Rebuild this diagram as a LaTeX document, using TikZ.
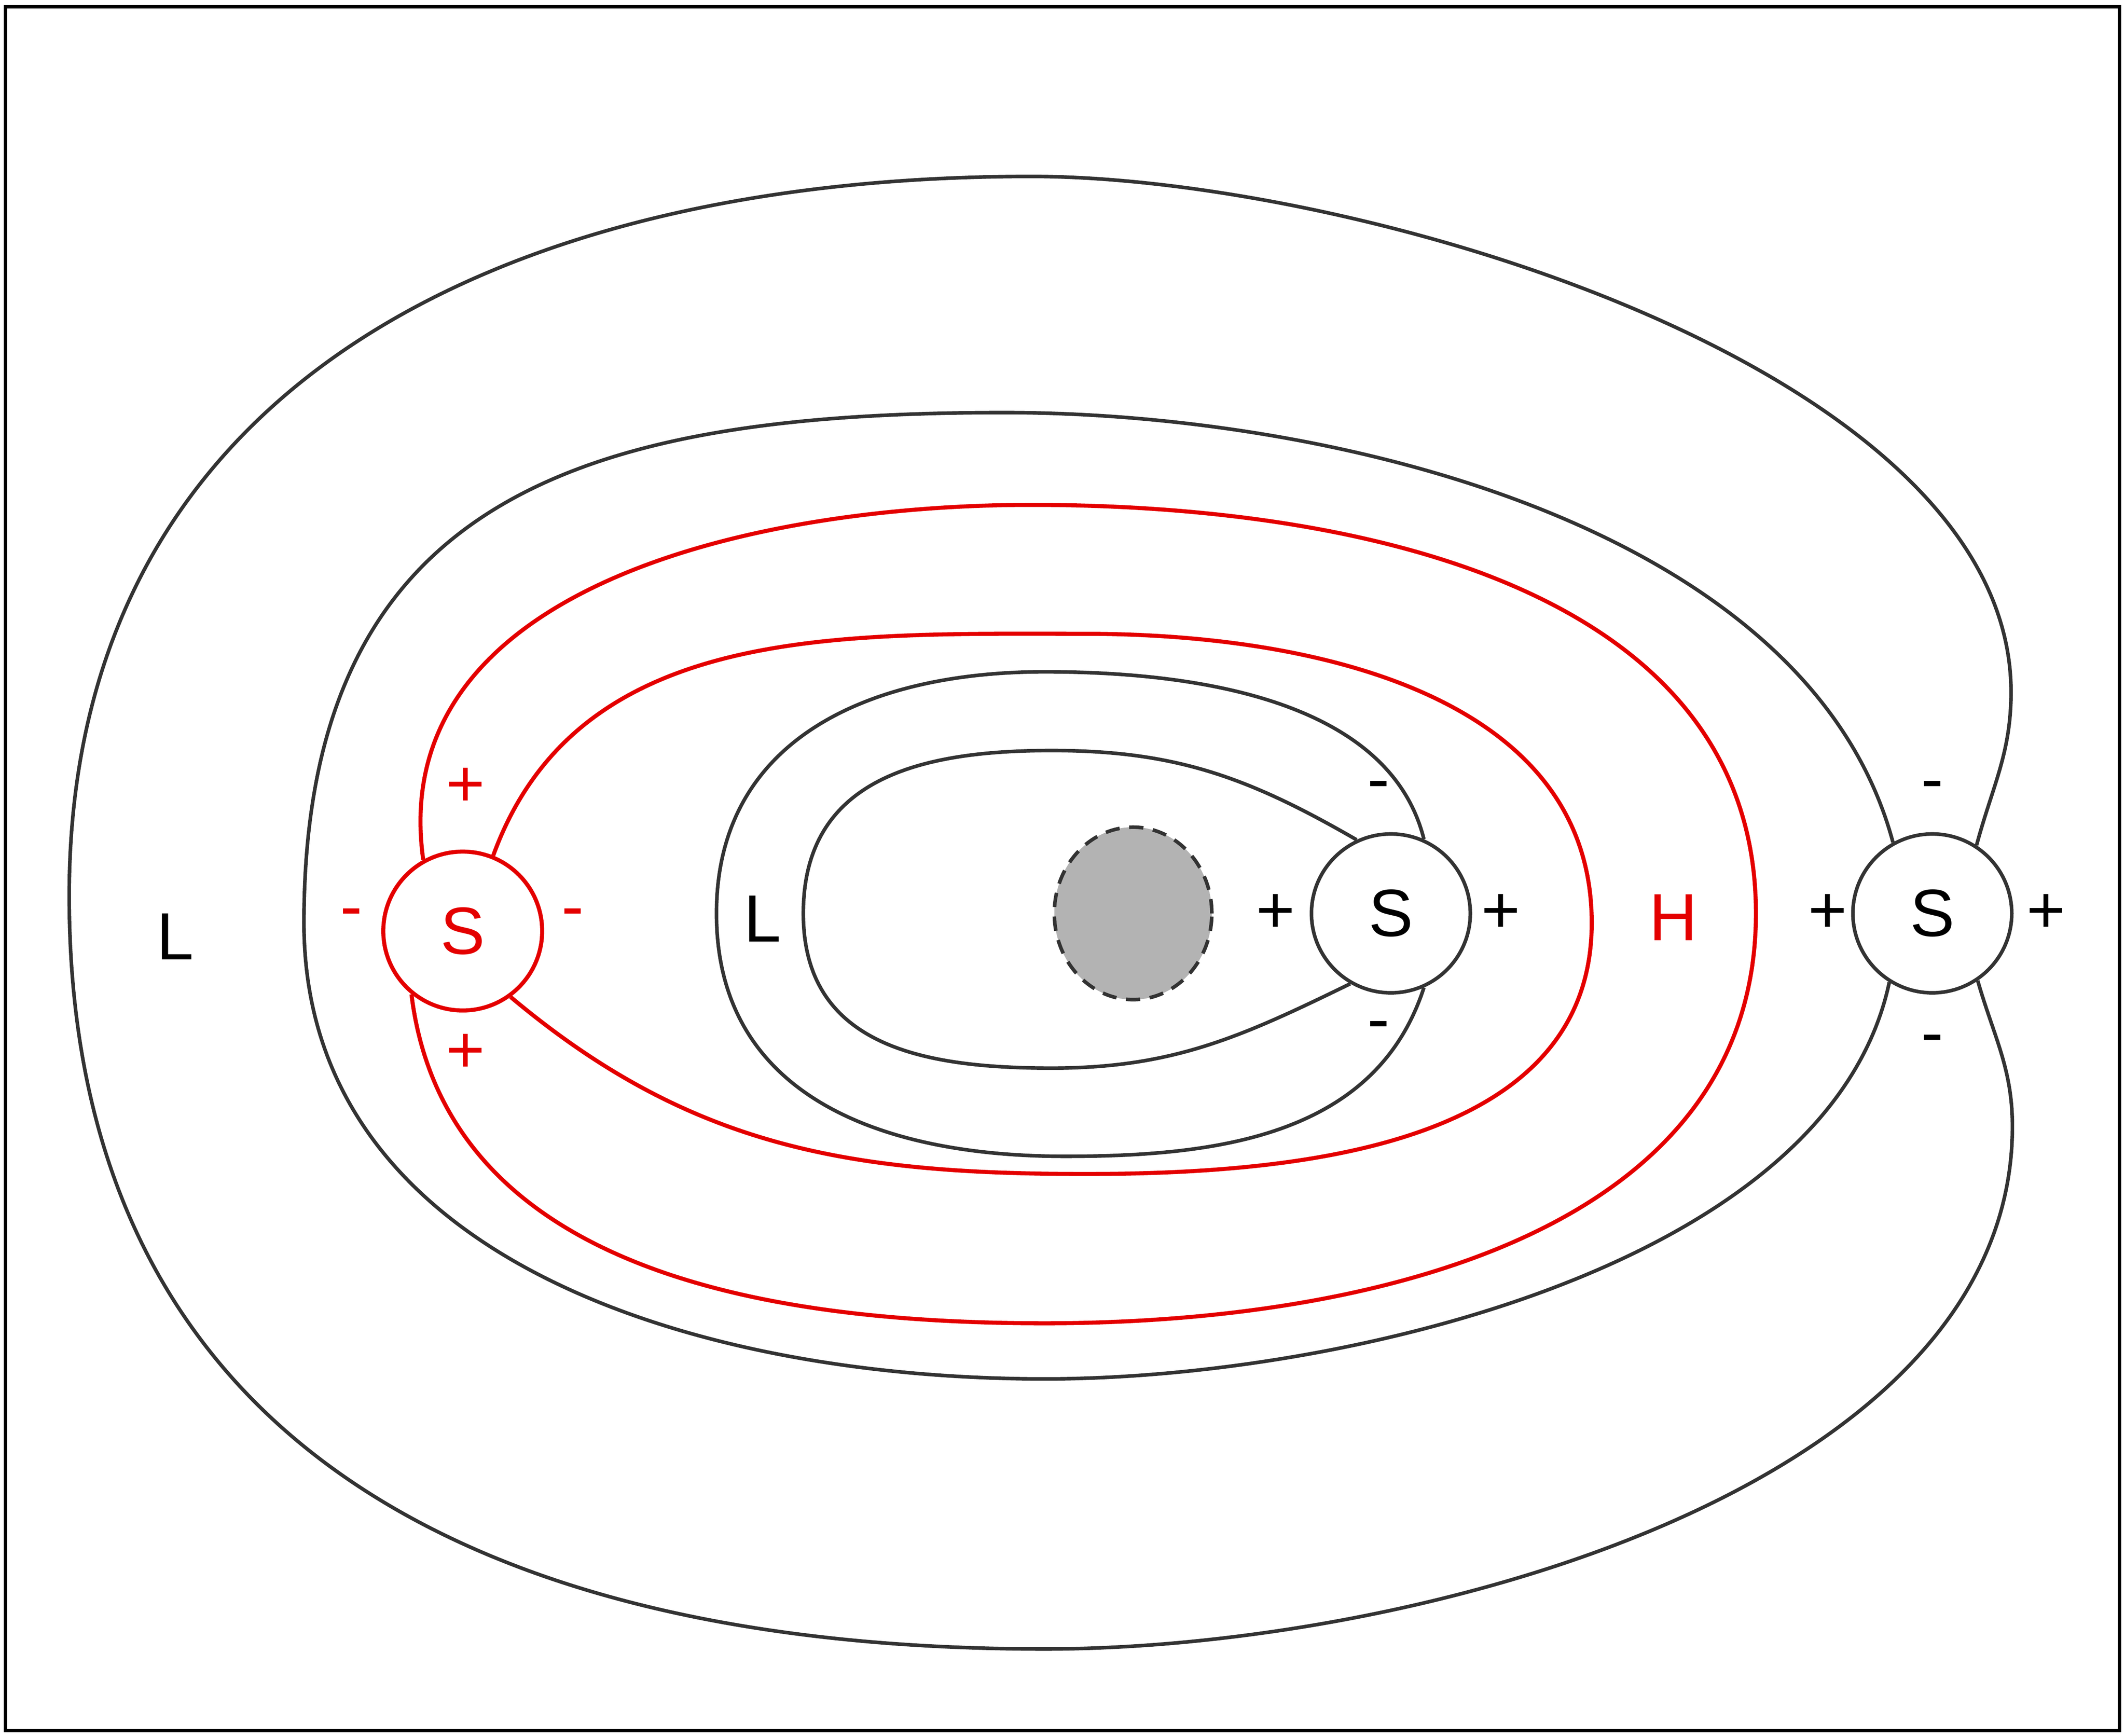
\documentclass[tikz,border=0pt]{standalone}
\usepackage{fontspec}
\setmainfont{Liberation Sans}
\usetikzlibrary{shapes.geometric}
\definecolor{lred}{RGB}{228,0,0}
\definecolor{lgray}{RGB}{51,51,51}
\definecolor{efill}{RGB}{179,179,179}
\begin{document}
\begin{tikzpicture}[x=0.01cm,y=0.01cm,
  bline/.style={draw=lgray, line width=0.75pt},
  rline/.style={draw=lred, line width=0.85pt},
  spot/.style={circle, minimum size=1.17cm, inner sep=0pt, line width=0.75pt, font=\fontsize{14}{16}\selectfont},
  lbl/.style={font=\fontsize{14}{16}\selectfont, inner sep=0pt}]
\useasboundingbox (0,0) rectangle (1566,-1279);
\draw[black, line width=0.7pt] (4,-5) rectangle (1562,-1275);

% nodes
\node[spot, draw=lred, line width=0.85pt, text=lred] (sR) at (341,-686) {S};
\node[spot, draw=lgray] (sM) at (1025,-673) {S};
\node[spot, draw=lgray] (sE) at (1424,-673) {S};
\node[ellipse, draw=lgray, fill=efill, dash pattern=on 3pt off 2pt, line width=0.75pt,
      minimum width=1.16cm, minimum height=1.27cm, inner sep=0pt] (g) at (835,-673) {};

% labels
\node[lbl] (l1) at (129,-690) {L};
\node[lbl] (l2) at (562,-677) {L};
\node[lbl, text=lred] (h) at (1233,-676) {H};
\node[lbl, text=lred] (rm1) at (259,-677) {-};
\node[lbl, text=lred] (rm2) at (422,-677) {-};
\node[lbl, text=lred] (rp1) at (343,-580) {+};
\node[lbl, text=lred] (rp2) at (343,-776) {+};
\node[lbl] (mp1) at (940,-673) {+};
\node[lbl] (mp2) at (1106,-673) {+};
\node[lbl] (mm1) at (1016,-583) {-};
\node[lbl] (mm2) at (1016,-760) {-};
\node[lbl] (ep1) at (1347,-673) {+};
\node[lbl] (ep2) at (1508,-673) {+};
\node[lbl] (em1) at (1424,-583) {-};
\node[lbl] (em2) at (1424,-770) {-};

% innermost black loop
\draw[bline] (sM.115) to[out=150,in=0] (775,-553) to[out=180,in=90,looseness=1.15] (592,-673)
  to[out=270,in=180,looseness=1.15] (775,-787) to[out=0,in=206] (sM.-120);
% second black loop
\draw[bline] (sM.66) to[out=104,in=0,looseness=0.9] (770,-495) to[out=180,in=90,looseness=1.1] (528,-673)
  to[out=270,in=180,looseness=1.1] (785,-852) to[out=0,in=252] (sM.-66);
% red inner loop
\draw[rline] (sR.68) to[out=70,in=180] (800,-467) to[out=0,in=90] (1173,-680)
  to[out=270,in=0] (800,-865) to[out=180,in=-40] (sR.-54);
% red outer loop
\draw[rline] (sR.119) to[out=98,in=180] (760,-372) to[out=0,in=90] (1294,-673)
  to[out=270,in=0] (770,-975) to[out=180,in=-83] (sR.-129);
% third black loop
\draw[bline] (sE.119) to[out=105,in=0,looseness=0.85] (740,-304) to[out=180,in=90,looseness=1.25] (224,-680)
  to[out=270,in=180] (770,-1016) to[out=0,in=258,looseness=0.8] (sE.-122);
% outer black loop
\draw[bline] (sE.57) to[out=75,in=270] (1482,-510) to[out=90,in=0,looseness=0.75] (760,-130)
  to[out=180,in=90,looseness=1.1] (51,-660) to[out=270,in=180,looseness=1.15] (770,-1215)
  to[out=0,in=270,looseness=0.85] (1483,-830) to[out=90,in=286] (sE.-56);
\end{tikzpicture}
\end{document}
